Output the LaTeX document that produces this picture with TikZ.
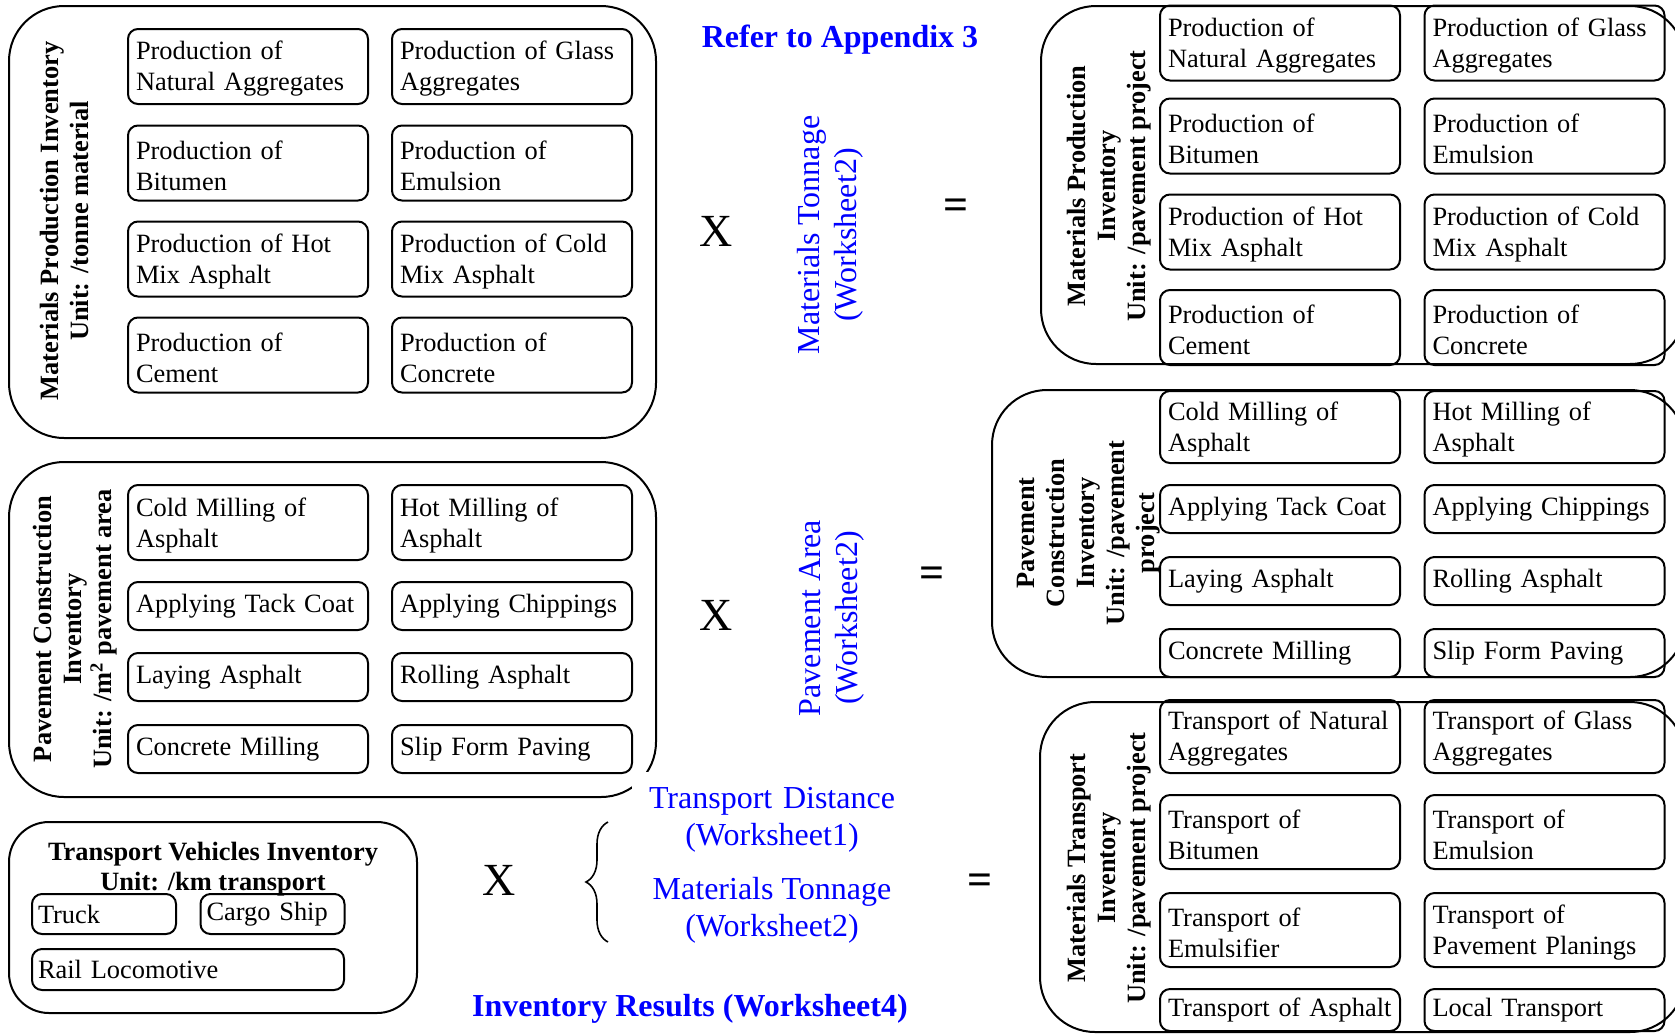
\documentclass[tikz,border=0pt]{standalone}
\usepackage{fontspec}
\setmainfont{Liberation Serif}
\usetikzlibrary{decorations.pathreplacing}

\newcommand\boxfont{\fontsize{13.2pt}{15.5pt}\selectfont}
\newcommand\labfont{\fontsize{13.2pt}{15pt}\selectfont\bfseries}
\newcommand\bluefont{\fontsize{16pt}{18.5pt}\selectfont}
\newcommand\opfont{\fontsize{23pt}{23pt}\selectfont}
% full-ascent strut so two-line entries sit like the text line box
\newcommand\topstrut{\rule{0pt}{11.8pt}}

\begin{document}
\begin{tikzpicture}[x=0.5pt,y=-0.5pt,
  container/.style={draw, line width=1pt, rounded corners=27.5pt, inner sep=0pt},
  boxbase/.style={draw, line width=1pt, rounded corners=5pt, inner xsep=4pt, inner ysep=0pt,
    text width=112pt, align=left, font=\boxfont},
  item/.style={boxbase, minimum height=37.5pt},
  itemone/.style={boxbase, minimum height=24pt},
  vitem/.style={draw, line width=1pt, rounded corners=5pt, inner xsep=3pt, inner ysep=0pt,
    align=left, font=\boxfont},
  lab/.style={font=\labfont, align=center, rotate=90, inner sep=0pt},
  bluetext/.style={text=blue, font=\bluefont, align=center, inner sep=0pt},
  op/.style={font=\opfont, inner sep=0pt},
  eqsign/.style={font=\fontsize{22pt}{22pt}\selectfont\bfseries, inner sep=0pt},
]
\useasboundingbox (0,0) rectangle (1675,1034);
\clip (0,0) rectangle (1675,1034);

% ---------- left column: per-unit inventories ----------
\node[container, minimum width=323.5pt, minimum height=216pt] (c1) at (332.5,222) {};
\node[item] (c1a) at (248,66.5) {\topstrut Production of\\Natural Aggregates};
\node[item] (c1b) at (512,66.5) {\topstrut Production of Glass\\Aggregates};
\node[item] (c1c) at (248,163) {\topstrut Production of\\Bitumen};
\node[item] (c1d) at (512,163) {\topstrut Production of\\Emulsion};
\node[item] (c1e) at (248,259) {\topstrut Production of Hot\\Mix Asphalt};
\node[item] (c1f) at (512,259) {\topstrut Production of Cold\\Mix Asphalt};
\node[item] (c1g) at (248,355) {\topstrut Production of\\Cement};
\node[item] (c1h) at (512,355) {\topstrut Production of\\Concrete};
\node[lab] (c1lab) at (65,221) {Materials Production Inventory\\Unit: /tonne material};

\node[container, minimum width=323.5pt, minimum height=167.5pt] (c2) at (332.5,629.5) {};
\node[item] (c2a) at (248,522.5) {\topstrut Cold Milling of\\Asphalt};
\node[item] (c2b) at (512,522.5) {\topstrut Hot Milling of\\Asphalt};
\node[itemone] (c2c) at (248,606) {Applying Tack Coat};
\node[itemone] (c2d) at (512,606) {Applying Chippings};
\node[itemone] (c2e) at (248,677) {Laying Asphalt};
\node[itemone] (c2f) at (512,677) {Rolling Asphalt};
\node[itemone] (c2g) at (248,749) {Concrete Milling};
\node[itemone] (c2h) at (512,749) {Slip Form Paving};
\node[lab] (c2lab) at (75,629) {Pavement Construction\\Inventory\\Unit: /m\textsuperscript{2} pavement area};

\node[container, rounded corners=20pt, minimum width=204pt, minimum height=95.5pt] (c3) at (213,917.5) {};
\node[font=\labfont, align=center, inner sep=0pt] (c3lab) at (213,869) {Transport Vehicles Inventory\\Unit: /km transport};
\node[vitem, text width=66pt, minimum height=20pt] (truck) at (104,914) {Truck};
\node[vitem, text width=66pt, minimum height=20pt] (ship) at (272.5,914) {Cargo Ship};
\node[vitem, text width=150pt, minimum height=20.5pt] (rail) at (188,969.5) {Rail Locomotive};

% ---------- middle: factors ----------
\node[bluetext, font=\fontsize{16pt}{18.5pt}\selectfont\bfseries] (appx) at (840,40) {Refer to Appendix 3};
\node[op] (x1) at (716,231) {X};
\node[op] (x2) at (716,615) {X};
\node[op] (x3) at (499,880) {X};
\node[bluetext, rotate=90] (tonA) at (830,235) {Materials Tonnage\\(Worksheet2)};
\node[bluetext, rotate=90] (area) at (832,618) {Pavement Area\\(Worksheet2)};
\node[bluetext, fill=white, text width=130pt, inner xsep=5pt, inner ysep=7.5pt, anchor=north] (dist) at (772,772) {Transport Distance\\(Worksheet1)};
\node[bluetext] (tonB) at (772,910) {Materials Tonnage\\(Worksheet2)};
\coordinate (braceb) at (608,942);
\coordinate (bracet) at (608,822);
\draw[decorate, decoration={brace, amplitude=11pt}, line width=0.8pt] (braceb) -- (bracet);
\node[eqsign] (eq1) at (956,209) {=};
\node[eqsign] (eq2) at (932,577) {=};
\node[eqsign] (eq3) at (980,884) {=};
\node[bluetext, font=\fontsize{16pt}{18.5pt}\selectfont\bfseries] (res) at (690,1009) {Inventory Results (Worksheet4)};

% ---------- right column: per-project inventories ----------
\node[container, minimum width=322pt, minimum height=179pt] (r1) at (1363,185) {};
\node[item] (r1a) at (1280,43) {\topstrut Production of\\Natural Aggregates};
\node[item] (r1b) at (1544.5,43) {\topstrut Production of Glass\\Aggregates};
\node[item] (r1c) at (1280,136) {\topstrut Production of\\Bitumen};
\node[item] (r1d) at (1544.5,136) {\topstrut Production of\\Emulsion};
\node[item] (r1e) at (1280,232) {\topstrut Production of Hot\\Mix Asphalt};
\node[item] (r1f) at (1544.5,232) {\topstrut Production of Cold\\Mix Asphalt};
\node[item] (r1g) at (1280,327.5) {\topstrut Production of\\Cement};
\node[item] (r1h) at (1544.5,327.5) {\topstrut Production of\\Concrete};
\node[lab] (r1lab) at (1109,186) {Materials Production\\Inventory\\Unit: /pavement project};

\node[container, minimum width=346.5pt, minimum height=143.5pt] (r2) at (1338.5,533.5) {};
\node[item, minimum height=36pt] (r2a) at (1280,427) {\topstrut Cold Milling of\\Asphalt};
\node[item, minimum height=36pt] (r2b) at (1544.5,427) {\topstrut Hot Milling of\\Asphalt};
\node[itemone] (r2c) at (1280,509) {Applying Tack Coat};
\node[itemone] (r2d) at (1544.5,509) {Applying Chippings};
\node[itemone] (r2e) at (1280,581) {Laying Asphalt};
\node[itemone] (r2f) at (1544.5,581) {Rolling Asphalt};
\node[itemone] (r2g) at (1280,653) {Concrete Milling};
\node[itemone] (r2h) at (1544.5,653) {Slip Form Paving};
\node[lab] (r2lab) at (1089,533) {Pavement\\Construction\\Inventory\\Unit: /pavement\\project};

\node[container, minimum width=322.5pt, minimum height=165pt] (r3) at (1362.5,867) {};
\node[item, minimum height=36.5pt] (r3a) at (1280,736.5) {\topstrut Transport of Natural\\Aggregates};
\node[item, minimum height=36.5pt] (r3b) at (1544.5,736.5) {\topstrut Transport of Glass\\Aggregates};
\node[item, minimum height=37pt] (r3c) at (1280,832) {\topstrut Transport of\\Bitumen};
\node[item, minimum height=37pt] (r3d) at (1544.5,832) {\topstrut Transport of\\Emulsion};
\node[item, minimum height=37pt] (r3e) at (1280,930) {\topstrut Transport of\\Emulsifier};
\node[item, minimum height=37pt] (r3f) at (1544.5,930) {\topstrut Transport of\\Pavement Planings};
\node[itemone, minimum height=21pt] (r3g) at (1280,1010) {Transport of Asphalt};
\node[itemone, minimum height=21pt] (r3h) at (1544.5,1010) {Local Transport};
\node[lab] (r3lab) at (1109,868) {Materials Transport\\Inventory\\Unit: /pavement project};
\end{tikzpicture}
\end{document}
